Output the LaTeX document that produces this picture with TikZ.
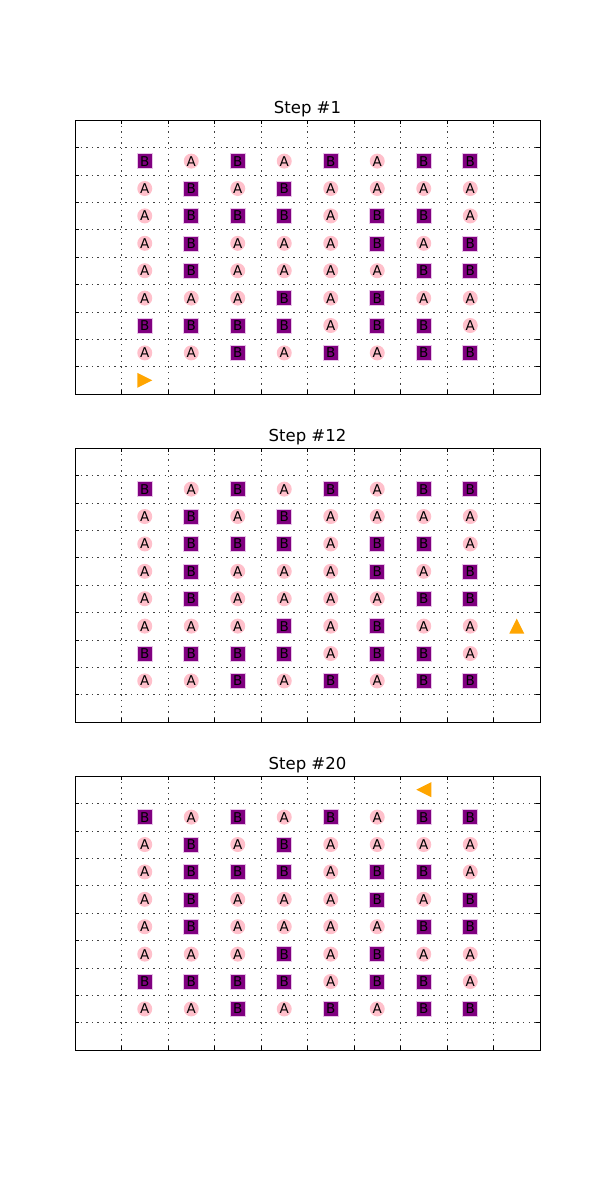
\documentclass[tikz,border=0pt]{standalone}
\usepackage{fontspec}
\setmainfont{DejaVu Sans}
\definecolor{agentorange}{HTML}{FFA500}
\definecolor{apink}{HTML}{FFC0CB}
\definecolor{bpurple}{HTML}{800080}
\definecolor{bedge}{HTML}{E8C4E8}
% rows of the city, top to bottom
\newcommand\cityrows{{B,A,B,A,B,A,B,B},{A,B,A,B,A,A,A,A},{A,B,B,B,A,B,B,A},{A,B,A,A,A,B,A,B},{A,B,A,A,A,A,B,B},{A,A,A,B,A,B,A,A},{B,B,B,B,A,B,B,A},{A,A,B,A,B,A,B,B}}
\tikzset{
  cellA/.style={circle, fill=apink, inner sep=0pt, minimum size=15pt, font=\fontsize{13.5}{14}\selectfont},
  cellB/.style={rectangle, fill=bpurple, draw=bedge, line width=0.6pt, inner sep=0pt, minimum size=15pt, font=\fontsize{13.5}{14}\selectfont},
  gridline/.style={black!75, line width=0.5pt, dash pattern=on 1.4pt off 4.2pt},
  axframe/.style={black, line width=1pt},
  axtick/.style={black, line width=0.6pt},
  steptitle/.style={anchor=base, font=\fontsize{16.5}{20}\selectfont}
}
\begin{document}
\begin{tikzpicture}[x=1pt,y=-1pt]
\useasboundingbox (0,0) rectangle (600,1200);
\foreach \ytop/\stepno/\ax/\ay/\ang [count=\p] in {120/1/1.5/9.5/0,448/12/9.5/6.5/90,776/20/7.5/0.5/180}{
  \begin{scope}[shift={(75,\ytop)}, x=46.5pt, y=-27.4pt]
    % Grid and ticks
    \foreach \k in {1,...,9}{
      \draw[gridline] (\k,0) -- (\k,10);
      \draw[gridline] (0,\k) -- (10,\k);
      \draw[axtick] (\k,0) -- ++(0,-4pt);
      \draw[axtick] (\k,10) -- ++(0,4pt);
      \draw[axtick] (0,\k) -- ++(4pt,0);
      \draw[axtick] (10,\k) -- ++(-4pt,0);
    }
    % Axes
    \draw[axframe] (0,0) rectangle (10,10);
    % Title
    \node[steptitle] (title\p) at ([yshift=7pt]5,0) {Step \#\stepno};
    % Cells
    \foreach \row [count=\j] in \cityrows{
      \foreach \c [count=\i] in \row{
        \node[cell\c] (m\p-\j-\i) at (\i+0.5,\j+0.5) {\c};
      }
    }
    % Agent
    \coordinate (agent\p) at (\ax,\ay);
    \fill[agentorange, shift={(agent\p)}, rotate=\ang] (7.5pt,0) -- (-7.5pt,7.5pt) -- (-7.5pt,-7.5pt) -- cycle;
  \end{scope}
}
\end{tikzpicture}
\end{document}
